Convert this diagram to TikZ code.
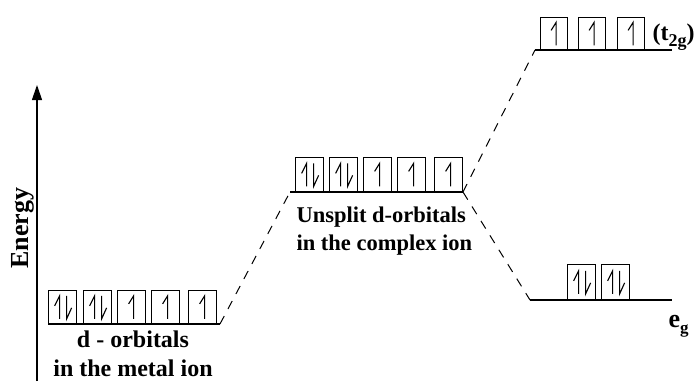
\documentclass[tikz,border=0pt]{standalone}
\usepackage{fontspec}
\setmainfont{Liberation Serif}
\usetikzlibrary{arrows.meta}

\tikzstyle{orbital}=[draw,line width=1.2pt,inner sep=0pt,anchor=south west]
\tikzstyle{upbox}=[orbital,path picture={
    \draw[line width=1.1pt] ([shift={(-3pt,3pt)}]path picture bounding box.center)
      -- ([shift={(2pt,11pt)}]path picture bounding box.center)
      -- ([shift={(2pt,-12pt)}]path picture bounding box.center);}]
\tikzstyle{pairbox}=[orbital,path picture={
    \draw[line width=1.1pt] ([shift={(-8pt,1pt)}]path picture bounding box.center)
      -- ([shift={(-3pt,11pt)}]path picture bounding box.center)
      -- ([shift={(-3pt,-12pt)}]path picture bounding box.center);
    \draw[line width=1.1pt] ([shift={(4pt,11pt)}]path picture bounding box.center)
      -- ([shift={(4pt,-12pt)}]path picture bounding box.center)
      -- ([shift={(9pt,-1pt)}]path picture bounding box.center);}]
\tikzstyle{energyline}=[draw,line width=1.4pt]
\tikzstyle{linkline}=[draw,line width=1pt,dash pattern=on 9pt off 8pt]

\begin{document}
\begin{tikzpicture}[x=1pt,y=-1pt]
	\useasboundingbox (0,0) rectangle (694,381);
	% energy axis
	\coordinate (axisbot) at (37,381);
	\coordinate (axistop) at (37,85);
	\draw[line width=1.2pt,-{Triangle[width=10pt,length=15pt]}] (axisbot) -- (axistop);
	\node[rotate=90,font=\bfseries\fontsize{26}{26}\selectfont] (energy) at (23,228) {Energy};
	% ends of the levels
	\coordinate (metalL) at (48,324);  \coordinate (metalR) at (220,324);
	\coordinate (freeL) at (290,192);  \coordinate (freeR) at (463,192);
	\coordinate (tgL) at (535,50);     \coordinate (tgR) at (672,50);
	\coordinate (egL) at (530,300);    \coordinate (egR) at (672,300);
	\foreach \left/\right in {metalL/metalR, freeL/freeR, tgL/tgR, egL/egR}
		\path[energyline] (\left) -- (\right);
	% dashed links between the levels
	\foreach \source/\dest in {metalR/freeL, freeR/tgL, freeR/egL}
		\path[linkline] (\source) -- (\dest);
	% orbital boxes
	\foreach \i/\x/\kind in {1/48/pairbox,2/83/pairbox,3/117/upbox,4/151/upbox,5/188/upbox}
		\node[\kind,minimum width=28pt,minimum height=33pt] (m\i) at (\x,324) {};
	\foreach \i/\x/\kind in {1/295/pairbox,2/329/pairbox,3/363/upbox,4/397/upbox,5/434/upbox}
		\node[\kind,minimum width=28pt,minimum height=34pt] (u\i) at (\x,192) {};
	\foreach \i/\x in {1/540,2/578,3/617}
		\node[upbox,minimum width=27pt,minimum height=32pt] (t\i) at (\x,50) {};
	\foreach \i/\x in {1/567,2/601}
		\node[pairbox,minimum width=28pt,minimum height=35pt] (e\i) at (\x,300) {};
	% labels
	\node[anchor=base,font=\bfseries\fontsize{24}{24}\selectfont] (metaltop) at (133,347) {d - orbitals};
	\node[anchor=base,font=\bfseries\fontsize{24}{24}\selectfont] (metalbot) at (133,376) {in the metal ion};
	\node[anchor=base west,font=\bfseries\fontsize{22.5}{22.5}\selectfont] (freetop) at (293,222) {Unsplit d-orbitals};
	\node[anchor=base west,font=\bfseries\fontsize{22.5}{22.5}\selectfont] (freebot) at (293,250) {in the complex ion};
	\node[anchor=base west,font=\bfseries\fontsize{24}{24}\selectfont] (tglabel) at (649,40) {(t\raisebox{-6pt}{\fontsize{18}{18}\selectfont 2g})};
	\node[anchor=base west,font=\bfseries\fontsize{26}{26}\selectfont] (eglabel) at (665,327) {e\raisebox{-6pt}{\fontsize{17}{17}\selectfont g}};
\end{tikzpicture}
\end{document}
